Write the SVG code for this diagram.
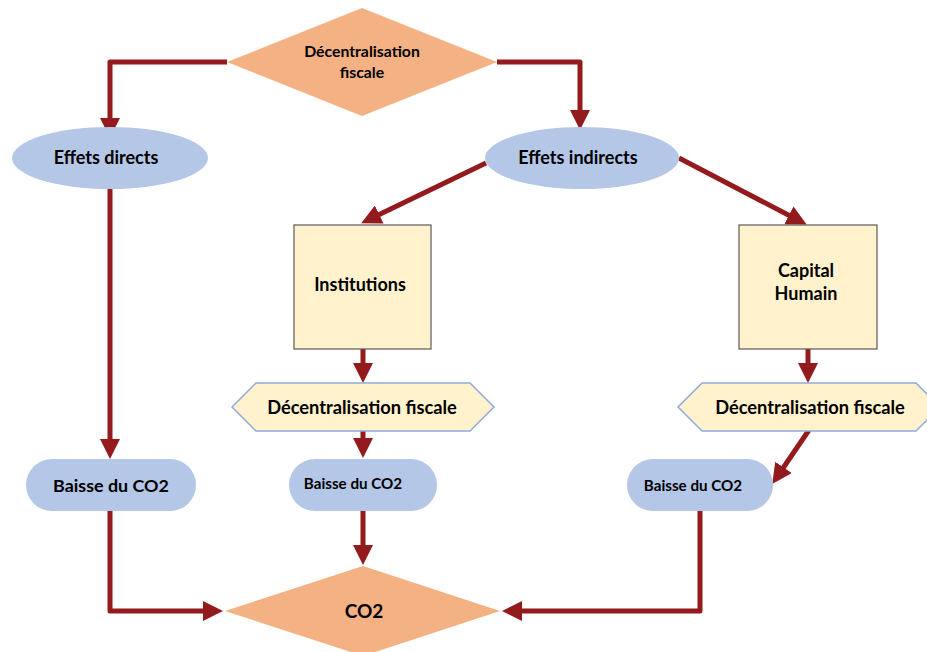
<svg xmlns="http://www.w3.org/2000/svg" width="927" height="652" viewBox="0 0 927 652">
<style>
text{font-family:Lato,"Open Sans","Liberation Sans",sans-serif;font-weight:bold;fill:#000;text-anchor:middle}
.dia{fill:#F4B183}
.ell{fill:#B4C7E7}
.box{fill:#FFF2CC;stroke:#595959;stroke-width:1.2}
.hex{fill:#FFF2CC;stroke:#8FAADC;stroke-width:1.5}
.pill{fill:#B4C7E7}
.con{fill:none;stroke:#931A1D;stroke-width:5;stroke-linejoin:round;marker-end:url(#ah)}
</style>
<defs>
<marker id="ah" markerWidth="20" markerHeight="20" refX="8" refY="10" orient="auto" markerUnits="userSpaceOnUse">
<path d="M0,0 L20,10 L0,20 z" fill="#931A1D"/>
</marker>
</defs>
<rect width="927" height="652" fill="#fff"/>
<g id="connectors">
<path class="con" d="M227,62 H110 V126"/>
<path class="con" d="M497,62 H580 V118"/>
<path class="con" d="M110,188 V447"/>
<path class="con" d="M486,163 L372,218"/>
<path class="con" d="M679,158 L796,219"/>
<path class="con" d="M363,349 V371"/>
<path class="con" d="M808,349 V371"/>
<path class="con" d="M363,431 V446"/>
<path class="con" d="M809,430 L779,474"/>
<path class="con" d="M110,511 V611 H211"/>
<path class="con" d="M363,511 V553"/>
<path class="con" d="M700,511 V611 H514"/>
</g>
<g id="n-decentralisation">
<polygon class="dia" points="227,62 362,8 497,62 362,116"/>
<text x="362" y="57" font-size="15.8">Décentralisation</text>
<text x="362" y="78" font-size="15.8">fiscale</text>
</g>
<g id="n-effets-directs">
<ellipse class="ell" cx="110" cy="158" rx="98" ry="31"/>
<text x="106" y="164" font-size="18">Effets directs</text>
</g>
<g id="n-effets-indirects">
<ellipse class="ell" cx="582" cy="158" rx="97" ry="31"/>
<text x="578" y="164" font-size="18">Effets indirects</text>
</g>
<g id="n-institutions">
<rect class="box" x="294" y="225" width="137" height="124"/>
<text x="360" y="291" font-size="18">Institutions</text>
</g>
<g id="n-capital">
<rect class="box" x="739" y="225" width="138" height="124"/>
<text x="806" y="277" font-size="18">Capital</text>
<text x="806" y="300" font-size="18">Humain</text>
</g>
<g id="n-hex1">
<polygon class="hex" points="232,407 256,383 470,383 494,407 470,431 256,431"/>
<text x="362" y="414" font-size="18.3">Décentralisation fiscale</text>
</g>
<g id="n-hex2">
<polygon class="hex" points="678,407 702,383 916,383 940,407 916,431 702,431"/>
<text x="810" y="414" font-size="18.3">Décentralisation fiscale</text>
</g>
<g id="n-baisse1">
<rect class="pill" x="26" y="459" width="170" height="52" rx="26"/>
<text x="111" y="492" font-size="17.9">Baisse du CO2</text>
</g>
<g id="n-baisse2">
<rect class="pill" x="289" y="459" width="148" height="52" rx="26"/>
<text x="353" y="489" font-size="15.2">Baisse du CO2</text>
</g>
<g id="n-baisse3">
<rect class="pill" x="627" y="459" width="146" height="52" rx="26"/>
<text x="693" y="491" font-size="15.2">Baisse du CO2</text>
</g>
<g id="n-co2">
<polygon class="dia" points="225,611 363,566 500,611 363,656"/>
<text x="364" y="618" font-size="19">CO2</text>
</g>
</svg>
